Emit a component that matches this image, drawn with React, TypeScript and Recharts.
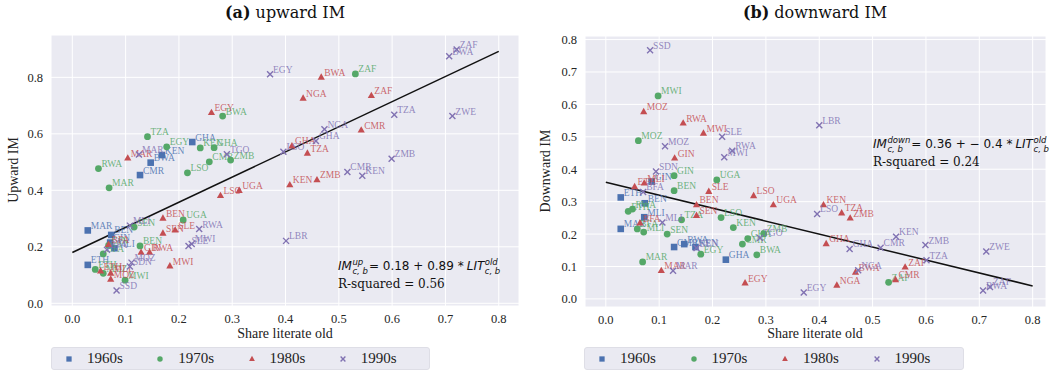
import { CartesianGrid, ReferenceLine, Scatter, ScatterChart, XAxis, YAxis } from "recharts"

type Pt = { name: string; x: number; y: number }

const BLUE = "#4C72B0"
const GREEN = "#55A868"
const RED = "#C44E52"
const PURPLE = "#8172B2"

const decades = ["1960s", "1970s", "1980s", "1990s"]
const xTicks = [0, 0.1, 0.2, 0.3, 0.4, 0.5, 0.6, 0.7, 0.8]
const upTicks = [0, 0.2, 0.4, 0.6, 0.8]
const downTicks = [0, 0.1, 0.2, 0.3, 0.4, 0.5, 0.6, 0.7, 0.8]

// upward IM by decade of birth
const up1960s: Pt[] = [
  { name: "GHA", x: 0.225, y: 0.571 },
  { name: "KEN", x: 0.168, y: 0.525 },
  { name: "BWA", x: 0.147, y: 0.498 },
  { name: "CMR", x: 0.127, y: 0.454 },
  { name: "MAR", x: 0.029, y: 0.258 },
  { name: "BEN", x: 0.073, y: 0.242 },
  { name: "GIN", x: 0.071, y: 0.215 },
  { name: "MLI", x: 0.079, y: 0.195 },
  { name: "ETH", x: 0.029, y: 0.136 },
]
const up1970s: Pt[] = [
  { name: "ZAF", x: 0.531, y: 0.812 },
  { name: "BWA", x: 0.282, y: 0.663 },
  { name: "TZA", x: 0.141, y: 0.59 },
  { name: "EGY", x: 0.177, y: 0.554 },
  { name: "KEN", x: 0.24, y: 0.55 },
  { name: "GHA", x: 0.266, y: 0.551 },
  { name: "CMR", x: 0.257, y: 0.501 },
  { name: "ZMB", x: 0.297, y: 0.507 },
  { name: "LSO", x: 0.216, y: 0.462 },
  { name: "RWA", x: 0.049, y: 0.477 },
  { name: "MAR", x: 0.069, y: 0.409 },
  { name: "UGA", x: 0.208, y: 0.295 },
  { name: "SEN", x: 0.116, y: 0.27 },
  { name: "BEN", x: 0.127, y: 0.203 },
  { name: "GIN", x: 0.068, y: 0.205 },
  { name: "BFA", x: 0.058, y: 0.175 },
  { name: "ETH", x: 0.043, y: 0.12 },
  { name: "MOZ", x: 0.058, y: 0.106 },
  { name: "MWI", x: 0.099, y: 0.082 },
]
const up1980s: Pt[] = [
  { name: "BWA", x: 0.467, y: 0.8 },
  { name: "ZAF", x: 0.561, y: 0.735 },
  { name: "NGA", x: 0.433, y: 0.726 },
  { name: "EGY", x: 0.261, y: 0.675 },
  { name: "CMR", x: 0.542, y: 0.613 },
  { name: "GHA", x: 0.412, y: 0.557 },
  { name: "TZA", x: 0.441, y: 0.531 },
  { name: "MAR", x: 0.104, y: 0.514 },
  { name: "ZMB", x: 0.459, y: 0.437 },
  { name: "KEN", x: 0.408, y: 0.419 },
  { name: "UGA", x: 0.313, y: 0.399 },
  { name: "LSO", x: 0.278, y: 0.381 },
  { name: "BEN", x: 0.17, y: 0.301 },
  { name: "SLE", x: 0.193, y: 0.259 },
  { name: "SEN", x: 0.17, y: 0.248 },
  { name: "BFA", x: 0.068, y: 0.208 },
  { name: "GIN", x: 0.129, y: 0.18 },
  { name: "RWA", x: 0.145, y: 0.18 },
  { name: "MWI", x: 0.183, y: 0.132 },
  { name: "ETH", x: 0.053, y: 0.114 },
  { name: "MLI", x: 0.072, y: 0.106 },
  { name: "MOZ", x: 0.072, y: 0.085 },
]
const up1990s: Pt[] = [
  { name: "ZAF", x: 0.721, y: 0.899 },
  { name: "BWA", x: 0.707, y: 0.875 },
  { name: "EGY", x: 0.371, y: 0.811 },
  { name: "TZA", x: 0.604, y: 0.668 },
  { name: "ZWE", x: 0.713, y: 0.663 },
  { name: "NGA", x: 0.473, y: 0.616 },
  { name: "GHA", x: 0.457, y: 0.575 },
  { name: "LSO", x: 0.396, y: 0.537 },
  { name: "TGO", x: 0.29, y: 0.528 },
  { name: "MAR", x: 0.125, y: 0.527 },
  { name: "ZMB", x: 0.599, y: 0.512 },
  { name: "CMR", x: 0.516, y: 0.465 },
  { name: "KEN", x: 0.544, y: 0.452 },
  { name: "LBR", x: 0.401, y: 0.221 },
  { name: "RWA", x: 0.238, y: 0.263 },
  { name: "MWI", x: 0.224, y: 0.21 },
  { name: "SLE", x: 0.218, y: 0.203 },
  { name: "MLI", x: 0.108, y: 0.275 },
  { name: "BFA", x: 0.065, y: 0.19 },
  { name: "MOZ", x: 0.111, y: 0.144 },
  { name: "SDN", x: 0.108, y: 0.13 },
  { name: "SSD", x: 0.083, y: 0.045 },
]

// downward IM by decade of birth
const down1960s: Pt[] = [
  { name: "GIN", x: 0.086, y: 0.362 },
  { name: "ETH", x: 0.028, y: 0.313 },
  { name: "BEN", x: 0.073, y: 0.295 },
  { name: "MLI", x: 0.072, y: 0.252 },
  { name: "MAR", x: 0.028, y: 0.216 },
  { name: "BWA", x: 0.147, y: 0.169 },
  { name: "CMR", x: 0.128, y: 0.16 },
  { name: "KEN", x: 0.168, y: 0.16 },
  { name: "GHA", x: 0.225, y: 0.121 },
]
const down1970s: Pt[] = [
  { name: "MWI", x: 0.098, y: 0.626 },
  { name: "MOZ", x: 0.061, y: 0.488 },
  { name: "GIN", x: 0.128, y: 0.38 },
  { name: "UGA", x: 0.208, y: 0.367 },
  { name: "BEN", x: 0.128, y: 0.334 },
  { name: "RWA", x: 0.05, y: 0.277 },
  { name: "ETH", x: 0.042, y: 0.27 },
  { name: "LSO", x: 0.216, y: 0.251 },
  { name: "TZA", x: 0.142, y: 0.244 },
  { name: "KEN", x: 0.239, y: 0.22 },
  { name: "BFA", x: 0.059, y: 0.216 },
  { name: "MLI", x: 0.071, y: 0.206 },
  { name: "SEN", x: 0.115, y: 0.2 },
  { name: "ZMB", x: 0.296, y: 0.201 },
  { name: "GHA", x: 0.266, y: 0.186 },
  { name: "CMR", x: 0.256, y: 0.169 },
  { name: "EGY", x: 0.178, y: 0.138 },
  { name: "BWA", x: 0.283, y: 0.136 },
  { name: "MAR", x: 0.069, y: 0.114 },
  { name: "ZAF", x: 0.53, y: 0.051 },
]
const down1980s: Pt[] = [
  { name: "MOZ", x: 0.071, y: 0.577 },
  { name: "RWA", x: 0.145, y: 0.542 },
  { name: "MWI", x: 0.183, y: 0.511 },
  { name: "GIN", x: 0.129, y: 0.434 },
  { name: "MLI", x: 0.072, y: 0.357 },
  { name: "ETH", x: 0.054, y: 0.346 },
  { name: "SLE", x: 0.193, y: 0.331 },
  { name: "LSO", x: 0.277, y: 0.318 },
  { name: "UGA", x: 0.314, y: 0.29 },
  { name: "BEN", x: 0.17, y: 0.29 },
  { name: "KEN", x: 0.408, y: 0.29 },
  { name: "TZA", x: 0.442, y: 0.265 },
  { name: "SEN", x: 0.17, y: 0.257 },
  { name: "ZMB", x: 0.458, y: 0.249 },
  { name: "BFA", x: 0.064, y: 0.234 },
  { name: "GHA", x: 0.413, y: 0.17 },
  { name: "ZAF", x: 0.561, y: 0.098 },
  { name: "MAR", x: 0.104, y: 0.087 },
  { name: "BWA", x: 0.468, y: 0.082 },
  { name: "CMR", x: 0.543, y: 0.059 },
  { name: "EGY", x: 0.261, y: 0.049 },
  { name: "NGA", x: 0.433, y: 0.042 },
]
const down1990s: Pt[] = [
  { name: "SSD", x: 0.083, y: 0.767 },
  { name: "LBR", x: 0.4, y: 0.536 },
  { name: "SLE", x: 0.218, y: 0.5 },
  { name: "MOZ", x: 0.111, y: 0.471 },
  { name: "RWA", x: 0.237, y: 0.457 },
  { name: "MWI", x: 0.222, y: 0.437 },
  { name: "SDN", x: 0.094, y: 0.393 },
  { name: "BFA", x: 0.07, y: 0.33 },
  { name: "LSO", x: 0.396, y: 0.262 },
  { name: "MLI", x: 0.106, y: 0.236 },
  { name: "KEN", x: 0.544, y: 0.192 },
  { name: "TGO", x: 0.289, y: 0.188 },
  { name: "ZMB", x: 0.599, y: 0.166 },
  { name: "CMR", x: 0.515, y: 0.158 },
  { name: "BEN", x: 0.17, y: 0.157 },
  { name: "GHA", x: 0.457, y: 0.154 },
  { name: "ZWE", x: 0.713, y: 0.146 },
  { name: "TZA", x: 0.601, y: 0.119 },
  { name: "NGA", x: 0.473, y: 0.088 },
  { name: "MAR", x: 0.126, y: 0.087 },
  { name: "ZAF", x: 0.72, y: 0.037 },
  { name: "BWA", x: 0.707, y: 0.026 },
  { name: "EGY", x: 0.371, y: 0.02 },
]

// OLS fits: IM = a + b * LIT
const upFit = { a: 0.18, b: 0.89, r2: 0.56 }
const downFit = { a: 0.36, b: -0.4, r2: 0.24 }

type Kind = "square" | "circle" | "triangle" | "cross"
const kinds: Kind[] = ["square", "circle", "triangle", "cross"]
const colors = [BLUE, GREEN, RED, PURPLE]

function markerPath(kind: Kind, cx: number, cy: number, color: string, s = 1) {
  if (kind === "square") {
    const h = 3.3 * s
    return <rect x={cx - h} y={cy - h} width={2 * h} height={2 * h} fill={color} />
  }
  if (kind === "circle") return <circle cx={cx} cy={cy} r={3.4 * s} fill={color} />
  if (kind === "triangle") {
    const r = 4 * s
    return (
      <polygon
        points={`${cx},${cy - r} ${cx + r * 0.9},${cy + r * 0.6} ${cx - r * 0.9},${cy + r * 0.6}`}
        fill={color}
      />
    )
  }
  const r = 3 * s
  return (
    <g stroke={color} strokeWidth={1.4}>
      <line x1={cx - r} y1={cy - r} x2={cx + r} y2={cy + r} />
      <line x1={cx - r} y1={cy + r} x2={cx + r} y2={cy - r} />
    </g>
  )
}

const pointShape = (kind: Kind, color: string) => (props: any) => {
  const { cx, cy, payload } = props
  return (
    <g>
      {markerPath(kind, cx, cy, color)}
      <text
        x={cx + 3}
        y={cy - 1.5}
        fontFamily="Liberation Serif"
        fontSize={9.5}
        fill={color}
        fillOpacity={0.85}
      >
        {payload.name}
      </text>
    </g>
  )
}

const fmt = (v: number) => v.toFixed(1)
const tickStyle = { fontFamily: "Liberation Serif", fontSize: 12.5, fill: "#262626" }

type PanelProps = {
  left: number
  width: number
  yWidth: number
  marginRight: number
  top: number
  bottom: number
  xDomain: [number, number]
  yDomain: [number, number]
  yTicks: number[]
  series: Pt[][]
  fit: { a: number; b: number }
}

function Panel(p: PanelProps) {
  return (
    <div style={{ position: "absolute", left: p.left, top: 0 }}>
      <ScatterChart
        width={p.width}
        height={372}
        margin={{ top: p.top, right: p.marginRight, bottom: p.bottom, left: 0 }}
      >
        <CartesianGrid fill="#EAEAF2" fillOpacity={1} stroke="#ffffff" strokeWidth={1} />
        <XAxis
          type="number"
          dataKey="x"
          domain={p.xDomain}
          ticks={xTicks}
          tickFormatter={fmt}
          axisLine={false}
          tickLine={false}
          tick={tickStyle}
          height={30}
        />
        <YAxis
          type="number"
          dataKey="y"
          domain={p.yDomain}
          ticks={p.yTicks}
          tickFormatter={fmt}
          axisLine={false}
          tickLine={false}
          tick={tickStyle}
          width={p.yWidth}
        />
        {p.series.map((d, i) => (
          <Scatter
            key={decades[i]}
            data={d}
            isAnimationActive={false}
            shape={pointShape(kinds[i], colors[i])}
          />
        ))}
        <ReferenceLine
          segment={[
            { x: 0, y: p.fit.a },
            { x: 0.8, y: p.fit.a + p.fit.b * 0.8 },
          ]}
          stroke="#111"
          strokeWidth={1.5}
        />
      </ScatterChart>
    </div>
  )
}

function Stack({ sup, sub }: { sup: string; sub: string }) {
  return (
    <span
      style={{
        display: "inline-flex",
        flexDirection: "column",
        fontSize: 8.5,
        lineHeight: "8.5px",
        fontStyle: "italic",
        margin: "0 1px 0 0.5px",
        position: "relative",
        top: 1,
      }}
    >
      <span>{sup}</span>
      <span>{sub}</span>
    </span>
  )
}

function Equation({ left, top, sup, fit }: { left: number; top: number; sup: string; fit: { a: number; b: number; r2: number } }) {
  const sign = fit.b < 0 ? "+ \u2212" : "+"
  return (
    <div style={{ position: "absolute", left, top, color: "#111" }}>
      <div
        style={{
          fontFamily: "DejaVu Sans",
          fontSize: 12,
          whiteSpace: "nowrap",
          display: "flex",
          alignItems: "center",
        }}
      >
        <i>IM</i>
        <Stack sup={sup} sub="c, b" />
        <span>{`= ${fit.a.toFixed(2)} ${sign} ${Math.abs(fit.b).toString()} * `}</span>
        <i style={{ marginLeft: 3 }}>LIT</i>
        <Stack sup="old" sub="c, b" />
      </div>
      <div style={{ fontFamily: "DejaVu Serif", fontSize: 12, marginTop: 3, whiteSpace: "nowrap" }}>
        R-squared = {fit.r2.toFixed(2)}
      </div>
    </div>
  )
}

function Legend({ left, width }: { left: number; width: number }) {
  return (
    <div
      style={{
        position: "absolute",
        left,
        top: 347,
        width,
        height: 23,
        boxSizing: "border-box",
        background: "#EAEAF2",
        border: "1px solid #dedee6",
        borderRadius: 3,
        display: "flex",
        alignItems: "center",
        paddingLeft: 12,
        fontFamily: "Liberation Serif",
        fontSize: 15,
        color: "#222",
      }}
    >
      {decades.map((d, i) => (
        <div key={d} style={{ display: "flex", alignItems: "center", width: 99 }}>
          <svg width={10} height={10} style={{ marginRight: 13 }}>
            {markerPath(kinds[i], 5, 5, colors[i], 0.8)}
          </svg>
          <span>{d}</span>
        </div>
      ))}
    </div>
  )
}

const titleStyle = {
  position: "absolute" as const,
  top: 3,
  fontFamily: "DejaVu Serif",
  fontSize: 16,
  color: "#111",
  whiteSpace: "nowrap" as const,
  transform: "translateX(-50%)",
}
const xLabelStyle = {
  position: "absolute" as const,
  top: 326,
  fontFamily: "Liberation Serif",
  fontSize: 14,
  color: "#222",
  whiteSpace: "nowrap" as const,
  transform: "translateX(-50%)",
}
const yLabelStyle = {
  position: "absolute" as const,
  fontFamily: "Liberation Serif",
  fontSize: 14,
  color: "#222",
  whiteSpace: "nowrap" as const,
  transform: "translate(-50%, -50%) rotate(-90deg)",
}

export default function App() {
  return (
    <div
      style={{
        position: "absolute",
        left: 0,
        top: 0,
        width: 1059,
        height: 372,
        background: "#fff",
        overflow: "hidden",
      }}
    >
      <Panel
        left={0}
        width={530}
        yWidth={51}
        marginRight={11}
        top={35}
        bottom={36}
        xDomain={[-0.04, 0.838]}
        yDomain={[-0.0096, 0.95]}
        yTicks={upTicks}
        series={[up1960s, up1970s, up1980s, up1990s]}
        fit={upFit}
      />
      <Panel
        left={530}
        width={529}
        yWidth={55}
        marginRight={13}
        top={36}
        bottom={35}
        xDomain={[-0.039, 0.825]}
        yDomain={[-0.025, 0.811]}
        yTicks={downTicks}
        series={[down1960s, down1970s, down1980s, down1990s]}
        fit={downFit}
      />

      <div style={{ ...titleStyle, left: 285 }}>
        <b>(a)</b> upward IM
      </div>
      <div style={{ ...titleStyle, left: 815 }}>
        <b>(b)</b> downward IM
      </div>

      <div style={{ ...xLabelStyle, left: 285 }}>Share literate old</div>
      <div style={{ ...xLabelStyle, left: 815 }}>Share literate old</div>
      <div style={{ ...yLabelStyle, left: 14, top: 170 }}>Upward IM</div>
      <div style={{ ...yLabelStyle, left: 546, top: 171 }}>Downward IM</div>

      <Equation left={338} top={257} sup="up" fit={upFit} />
      <Equation left={873} top={135} sup="down" fit={downFit} />

      <Legend left={51} width={379} />
      <Legend left={584} width={380} />
    </div>
  )
}
